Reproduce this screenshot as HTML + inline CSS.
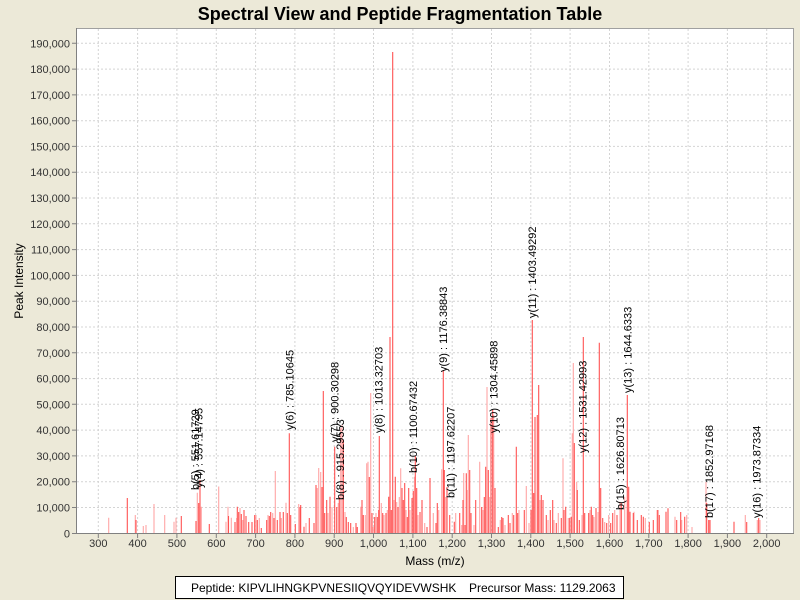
<!DOCTYPE html>
<html><head><meta charset="utf-8"><style>
html,body{margin:0;padding:0;background:#ECE9D8;}
svg{display:block;}
text{font-family:"Liberation Sans",Arial,sans-serif;}
</style></head><body>
<svg width="800" height="600" viewBox="0 0 800 600" xmlns="http://www.w3.org/2000/svg">
<rect x="0" y="0" width="800" height="600" fill="#ECE9D8"/>
<text x="400" y="20" font-size="18" font-weight="bold" text-anchor="middle" fill="#000">Spectral View and Peptide Fragmentation Table</text>
<rect x="76.5" y="28.5" width="717" height="505" fill="#fff" stroke="#a0a0a0" stroke-width="1"/>
<g stroke="#d4d4d4" stroke-width="1" stroke-dasharray="2,2">
<path d="M98.3 29V533M137.6 29V533M176.9 29V533M216.3 29V533M255.6 29V533M294.9 29V533M334.2 29V533M373.5 29V533M412.9 29V533M452.2 29V533M491.5 29V533M530.8 29V533M570.1 29V533M609.5 29V533M648.8 29V533M688.1 29V533M727.4 29V533M766.7 29V533"/>
<path d="M77 507.5H793M77 481.7H793M77 455.9H793M77 430.1H793M77 404.3H793M77 378.6H793M77 352.8H793M77 327H793M77 301.2H793M77 275.4H793M77 249.6H793M77 223.8H793M77 198H793M77 172.2H793M77 146.4H793M77 120.7H793M77 94.9H793M77 69.1H793M77 43.3H793"/>
</g>
<g fill="none" stroke-width="1.1">
<path stroke="#ffa6a6" d="M108.7 533V517.7M135.3 533V515M143.3 533V526M146 533V525M154 533V504M164.7 533V515M174 533V521.7M176 533V517.7M197.3 533V492.7M201.3 533V506.7M218.7 533V486.5M226 533V521.7M228 533V506.7M231.3 533V517.7M236.7 533V518M240 533V508M242.7 533V520M256 533V515M259.3 533V518M268 533V515M272.7 533V513M275.3 533V471M281.3 533V518M286 533V502.7M298.7 533V504M306 533V523M317.3 533V488M318.7 533V468M320.7 533V472M328 533V513M332 533V507M338.3 533V503M340.7 533V428M342 533V425M345 533V512M353.3 533V527M360.7 533V506.7M365.3 533V515M366.7 533V463.3M368 533V461.7M370.7 533V393M373.3 533V527M376 533V513M381.3 533V503M384 533V515M387.3 533V510M394 533V500M396.7 533V502M399.3 533V497M400.7 533V468.3M406 533V510M410 533V510M414.5 533V476.7M418 533V515M424.7 533V523M433.3 533V513M438.7 533V510M441.7 533V469.3M445.7 533V497M455.7 533V513M461.7 533V525M463.7 533V473M467.7 533V490M468.3 533V435M474 533V525M479.7 533V461.7M483 533V510M487 533V387M489.7 533V497M493.7 533V415M500.3 533V520M505 533V525M512.3 533V513M519 533V510M526.3 533V486M529 533V523M540 533V500M548 533V520M554 533V520M558.3 533V513M563 533V458.3M568.3 533V518M572.3 533V433.3M573.3 533V363M576.7 533V481.7M582 533V515M590 533V510M594 533V517M598 533V512M604.7 533V522M608.7 533V515M614.7 533V510M620 533V501.7M624.7 533V496.7M634 533V511.7M645.3 533V518M658.3 533V510M675 533V516.7M681.7 533V520M686.7 533V515M692 533V527M706 533V482M745.3 533V515M757.3 533V520M760 533V520"/>
<path stroke="#ff5252" d="M127.3 533V498M136 533V520M181.3 533V516M196 533V521M198.7 533V503M200 533V480M209.3 533V524M228.5 533V516M235 533V522M237.3 533V506.7M238.7 533V512M241.3 533V514M244 533V510M246 533V516M248.7 533V522M252 533V522M254.7 533V515M257.3 533V520M261.3 533V528M266.7 533V520M269.3 533V516M270.7 533V512M274 533V518M277.3 533V520M280 533V512M283.3 533V512M287.3 533V513M289.3 533V433.3M290.7 533V515M295.3 533V524M300 533V507M300.7 533V505M304 533V526.7M309.3 533V518M314 533V523M316 533V485M322 533V487M323.3 533V391M324.7 533V513M326.7 533V500M330 533V496.7M334.7 533V446.7M336.7 533V507M339.3 533V496.7M343.3 533V440M346.3 533V517M348.3 533V522M350.7 533V523M356 533V523M357.3 533V527M362 533V500M363.3 533V515M369.3 533V477M372 533V513M374.7 533V517M377.3 533V517M378.7 533V510M379.3 533V436M382.7 533V513M386 533V513M388.7 533V496.7M390 533V337M391.3 533V510M392.7 533V52M395.3 533V476.7M398 533V507M402 533V488M403.3 533V500M404.7 533V483M407.3 533V517M408.7 533V488M412 533V498M413.3 533V491M415.3 533V456M416.7 533V488M420 533V512M422 533V500M427 533V527M430 533V478M436 533V523M437.3 533V503M443.3 533V370M444.3 533V470M447 533V487M449.7 533V515M454.3 533V521.7M459.7 533V513M463 533V500M465 533V525M466.3 533V473.3M469.7 533V470M471 533V513M475.7 533V500M481.7 533V507M484.3 533V497M485.7 533V466.7M488.3 533V470M491 533V418M492.7 533V410M495 533V488M498.3 533V527M501.7 533V517M503 533V518M508.3 533V515M510 533V523M513.7 533V515M516.3 533V446.7M517.7 533V513M524.3 533V510M531 533V510M532.3 533V320M533.7 533V493M535 533V417M537.3 533V415M538.7 533V385M541.3 533V495M543 533V500M546.3 533V515M550.3 533V510M552.7 533V500M556.3 533V523M561.3 533V518M564 533V510M565.7 533V506.7M569.7 533V518M571.3 533V516.7M574.3 533V443M577.3 533V490M579.3 533V520M583.3 533V337M584.7 533V513M588.7 533V513M591.3 533V506.7M592.7 533V515M596 533V508M599.3 533V342.7M600.7 533V488M602.7 533V518M606.7 533V523M610.7 533V523M612.7 533V513M617 533V515M621.3 533V503M627.3 533V395M628.7 533V486.7M630 533V511.7M633.3 533V513M637.3 533V520M641.3 533V515M643.3 533V516.7M649.3 533V522M653.3 533V520M657.3 533V510M659.3 533V515M666 533V511.7M668 533V508.3M676.7 533V520M680.7 533V512M684.7 533V516.7M706.7 533V503M708.7 533V520M710 533V520M734 533V521.7M746.7 533V522M758.7 533V518"/>
</g>
<g font-size="11" fill="#000">
<text transform="translate(195,490) rotate(-90)" y="4">b(5) : 551.61729</text>
<text transform="translate(198.5,488) rotate(-90)" y="4">y(4) : 557.14795</text>
<text transform="translate(289.3,430) rotate(-90)" y="4">y(6) : 785.10645</text>
<text transform="translate(334.3,442) rotate(-90)" y="4">y(7) : 900.30298</text>
<text transform="translate(340.2,500) rotate(-90)" y="4">b(8) : 915.29553</text>
<text transform="translate(378.7,433) rotate(-90)" y="4">y(8) : 1013.32703</text>
<text transform="translate(413.1,473) rotate(-90)" y="4">b(10) : 1100.67432</text>
<text transform="translate(442.9,372) rotate(-90)" y="4">y(9) : 1176.38843</text>
<text transform="translate(450.3,498) rotate(-90)" y="4">b(11) : 1197.62207</text>
<text transform="translate(493.3,433) rotate(-90)" y="4">y(10) : 1304.45898</text>
<text transform="translate(532.2,318) rotate(-90)" y="4">y(11) : 1403.49292</text>
<text transform="translate(582.5,453) rotate(-90)" y="4">y(12) : 1531.42993</text>
<text transform="translate(620,510) rotate(-90)" y="4">b(15) : 1626.80713</text>
<text transform="translate(627.3,393) rotate(-90)" y="4">y(13) : 1644.6333</text>
<text transform="translate(708.9,518) rotate(-90)" y="4">b(17) : 1852.97168</text>
<text transform="translate(756.5,518) rotate(-90)" y="4">y(16) : 1973.87334</text>
</g>
<path d="M76.5 28V534M76 533.5H794" stroke="#808080" stroke-width="1" fill="none"/>
<g stroke="#808080" stroke-width="1">
<path d="M72 533.5H76M72 507.5H76M72 481.7H76M72 455.9H76M72 430.1H76M72 404.3H76M72 378.6H76M72 352.8H76M72 327H76M72 301.2H76M72 275.4H76M72 249.6H76M72 223.8H76M72 198H76M72 172.2H76M72 146.4H76M72 120.7H76M72 94.9H76M72 69.1H76M72 43.3H76"/>
<path d="M98.3 534V538M137.6 534V538M176.9 534V538M216.3 534V538M255.6 534V538M294.9 534V538M334.2 534V538M373.5 534V538M412.9 534V538M452.2 534V538M491.5 534V538M530.8 534V538M570.1 534V538M609.5 534V538M648.8 534V538M688.1 534V538M727.4 534V538M766.7 534V538"/>
</g>
<g font-size="11" fill="#333" text-anchor="end">
<text x="70" y="537.3">0</text>
<text x="70" y="511.5">10,000</text>
<text x="70" y="485.7">20,000</text>
<text x="70" y="459.9">30,000</text>
<text x="70" y="434.1">40,000</text>
<text x="70" y="408.3">50,000</text>
<text x="70" y="382.6">60,000</text>
<text x="70" y="356.8">70,000</text>
<text x="70" y="331">80,000</text>
<text x="70" y="305.2">90,000</text>
<text x="70" y="279.4">100,000</text>
<text x="70" y="253.6">110,000</text>
<text x="70" y="227.8">120,000</text>
<text x="70" y="202">130,000</text>
<text x="70" y="176.2">140,000</text>
<text x="70" y="150.4">150,000</text>
<text x="70" y="124.7">160,000</text>
<text x="70" y="98.9">170,000</text>
<text x="70" y="73.1">180,000</text>
<text x="70" y="47.3">190,000</text>
</g>
<g font-size="11" fill="#333" text-anchor="middle">
<text x="98.3" y="547">300</text>
<text x="137.6" y="547">400</text>
<text x="176.9" y="547">500</text>
<text x="216.3" y="547">600</text>
<text x="255.6" y="547">700</text>
<text x="294.9" y="547">800</text>
<text x="334.2" y="547">900</text>
<text x="373.5" y="547">1,000</text>
<text x="412.9" y="547">1,100</text>
<text x="452.2" y="547">1,200</text>
<text x="491.5" y="547">1,300</text>
<text x="530.8" y="547">1,400</text>
<text x="570.1" y="547">1,500</text>
<text x="609.5" y="547">1,600</text>
<text x="648.8" y="547">1,700</text>
<text x="688.1" y="547">1,800</text>
<text x="727.4" y="547">1,900</text>
<text x="766.7" y="547">2,000</text>
</g>
<text x="435" y="565" font-size="12" text-anchor="middle" fill="#000">Mass (m/z)</text>
<text transform="translate(23,281) rotate(-90)" font-size="12" text-anchor="middle" fill="#000">Peak Intensity</text>
<rect x="175.5" y="576.5" width="448" height="22" fill="#fff" stroke="#000" stroke-width="1"/>
<text x="191" y="592" font-size="12" fill="#000">Peptide: KIPVLIHNGKPVNESIIQVQYIDEVWSHK</text>
<text x="469" y="592" font-size="12" fill="#000">Precursor Mass: 1129.2063</text>
</svg>
</body></html>
